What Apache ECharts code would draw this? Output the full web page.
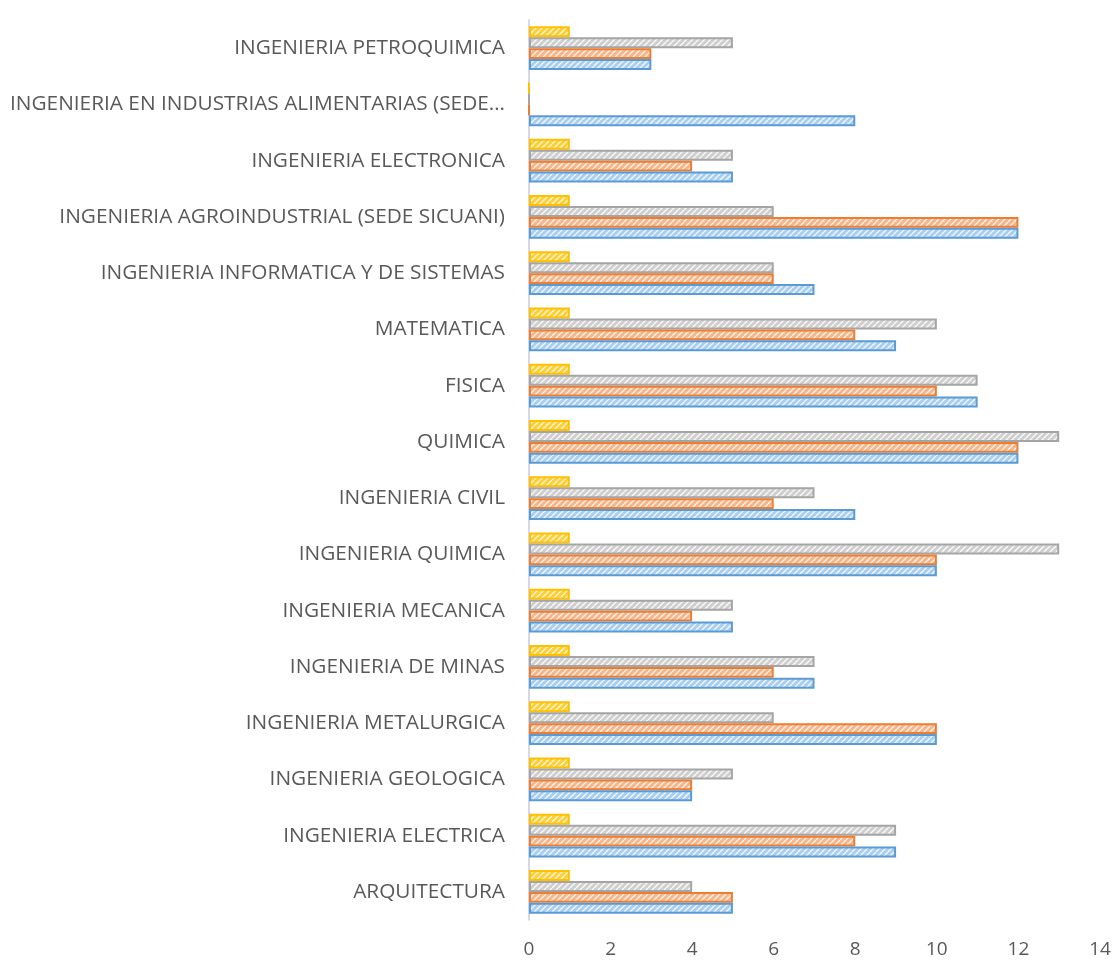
<!DOCTYPE html>
<html>
<head>
<meta charset="utf-8">
<script src="https://cdn.jsdelivr.net/npm/echarts@6/dist/echarts.min.js"></script>
<style>html,body{margin:0;padding:0;background:#fff}#c{width:1115px;height:960px}</style>
</head>
<body>
<div id="c"></div>
<script>
const categories = [
  "ARQUITECTURA",
  "INGENIERIA ELECTRICA",
  "INGENIERIA GEOLOGICA",
  "INGENIERIA METALURGICA",
  "INGENIERIA DE MINAS",
  "INGENIERIA MECANICA",
  "INGENIERIA QUIMICA",
  "INGENIERIA CIVIL",
  "QUIMICA",
  "FISICA",
  "MATEMATICA",
  "INGENIERIA INFORMATICA Y DE SISTEMAS",
  "INGENIERIA AGROINDUSTRIAL (SEDE SICUANI)",
  "INGENIERIA ELECTRONICA",
  "INGENIERIA EN INDUSTRIAS ALIMENTARIAS (SEDE…",
  "INGENIERIA PETROQUIMICA"
];
const serie1 = [5, 9, 4, 10, 7, 5, 10, 8, 12, 11, 9, 7, 12, 5, 8, 3];
const serie2 = [5, 8, 4, 10, 6, 4, 10, 6, 12, 10, 8, 6, 12, 4, 0, 3];
const serie3 = [4, 9, 5, 6, 7, 5, 13, 7, 13, 11, 10, 6, 6, 5, 0, 5];
const serie4 = [1, 1, 1, 1, 1, 1, 1, 1, 1, 1, 1, 1, 1, 1, 0, 1];
const xTicks = [0, 2, 4, 6, 8, 10, 12, 14];

function makePattern(bg, stripe) {
  const c = document.createElement('canvas');
  c.width = 6; c.height = 6;
  const g = c.getContext('2d');
  g.fillStyle = bg; g.fillRect(0, 0, 6, 6);
  g.strokeStyle = stripe; g.lineWidth = 1.3;
  for (let k = -6; k <= 12; k += 6) {
    g.beginPath(); g.moveTo(k, 6); g.lineTo(k + 6, 0); g.stroke();
  }
  return { image: c, repeat: 'repeat' };
}

const styles = {
  s1: { border: '#5b9bd5', bg: '#a9cef2', stripe: '#f4f9fe' },
  s2: { border: '#ed7d31', bg: '#f6b58a', stripe: '#fff6f0' },
  s3: { border: '#a5a5a5', bg: '#cfcfcf', stripe: '#fbfbfb' },
  s4: { border: '#ffc000', bg: '#ffcf3a', stripe: '#fff8dc' }
};
// ECharts stacks horizontal bar series top-down, so list them yellow → blue
const seriesDefs = [
  { name: 'Serie 4', data: serie4, st: styles.s4 },
  { name: 'Serie 3', data: serie3, st: styles.s3 },
  { name: 'Serie 2', data: serie2, st: styles.s2 },
  { name: 'Serie 1', data: serie1, st: styles.s1 }
];

const chart = echarts.init(document.getElementById('c'));
chart.setOption({
  animation: false,
  grid: { left: 529, right: 15, top: 20, bottom: 40, containLabel: false },
  xAxis: {
    type: 'value', min: 0, max: 14, interval: 2,
    axisLine: { show: false }, axisTick: { show: false }, splitLine: { show: false },
    axisLabel: { color: '#595959', fontSize: 19, fontFamily: 'Open Sans', margin: 20,
      formatter: v => xTicks.includes(v) ? String(v) : '' }
  },
  yAxis: {
    type: 'category', data: categories,
    axisLine: { show: true, lineStyle: { color: '#cdc8dc', width: 1.5 } },
    axisTick: { show: false },
    axisLabel: { color: '#595959', fontSize: 20.8, fontFamily: 'Open Sans', margin: 24 }
  },
  series: seriesDefs.map(s => ({
    name: s.name, type: 'bar', data: s.data,
    barGap: '0%', barCategoryGap: '22%',
    itemStyle: { color: makePattern(s.st.bg, s.st.stripe), borderColor: s.st.border, borderWidth: 2 }
  }))
});
</script>
</body>
</html>
